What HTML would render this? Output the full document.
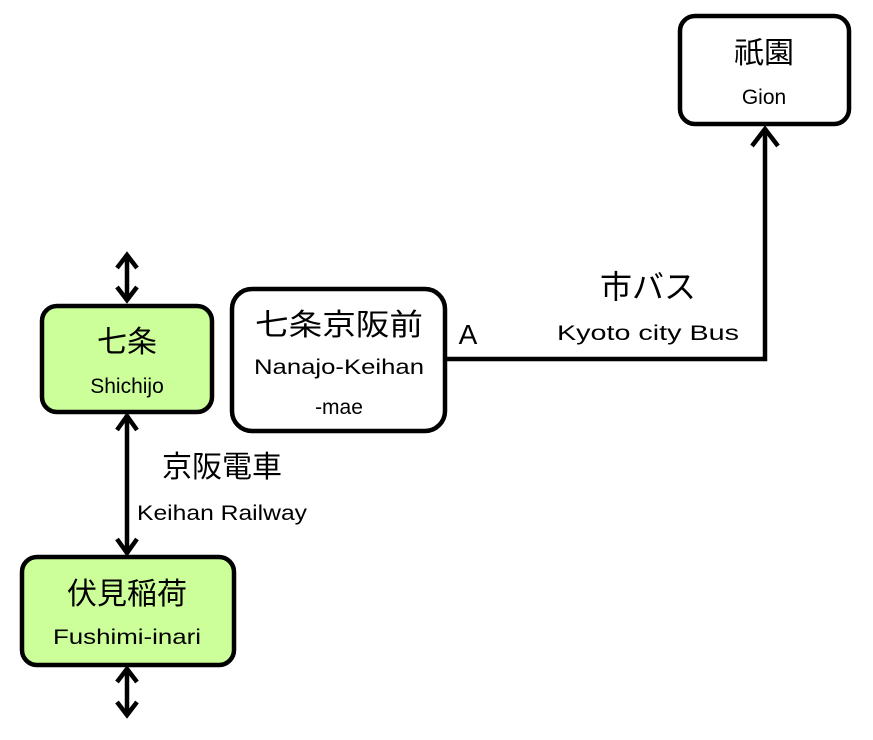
<!DOCTYPE html>
<html><head><meta charset="utf-8"><style>
html,body{margin:0;padding:0;background:#fff;}
svg{display:block;}
text{font-family:"Liberation Sans","Noto Sans CJK JP",sans-serif;fill:#000;}
.j{font-size:30px;}
.e{font-size:21px;}
</style></head><body>
<svg width="873" height="740" viewBox="0 0 873 740" xmlns="http://www.w3.org/2000/svg">
<g fill="none" stroke="#000" stroke-width="4.5" stroke-linejoin="miter" stroke-linecap="butt">
<!-- boxes -->
<rect x="680" y="16" width="169" height="108" rx="15" fill="#fff"/>
<rect x="42" y="306" width="170" height="106" rx="15" fill="#ccff99"/>
<rect x="232" y="289" width="213" height="142" rx="20" fill="#fff"/>
<rect x="22" y="557" width="212" height="108" rx="15" fill="#ccff99"/>
<!-- bus line -->
<polyline points="445,359 765,359 765,128"/>
<polyline points="752,146 765,129 778,146"/>
<!-- top double arrow -->
<line x1="127" y1="254" x2="127" y2="301"/>
<polyline points="117,268 127,255 137,268"/>
<polyline points="117,287 127,300 137,287"/>
<!-- middle double arrow -->
<line x1="127" y1="415" x2="127" y2="554"/>
<polyline points="117,430 127,416 137,430"/>
<polyline points="117,539 127,553 137,539"/>
<!-- bottom double arrow -->
<line x1="127" y1="668" x2="127" y2="716"/>
<polyline points="117,682 127,669 137,682"/>
<polyline points="117,702 127,715 137,702"/>
</g>
<text class="j" x="764" y="63" text-anchor="middle">祇園</text>
<text class="e" x="764" y="104" text-anchor="middle">Gion</text>
<text class="j" x="127" y="352" text-anchor="middle">七条</text>
<text class="e" x="127" y="393" text-anchor="middle">Shichijo</text>
<text class="j" x="339" y="335" text-anchor="middle" textLength="168" lengthAdjust="spacingAndGlyphs">七条京阪前</text>
<text class="e" x="339" y="374" text-anchor="middle" textLength="170" lengthAdjust="spacingAndGlyphs">Nanajo-Keihan</text>
<text class="e" x="339" y="414" text-anchor="middle">-mae</text>
<text class="j" x="127" y="604" text-anchor="middle">伏見稲荷</text>
<text class="e" x="127" y="644" text-anchor="middle" textLength="148" lengthAdjust="spacingAndGlyphs">Fushimi-inari</text>
<text style="font-size:32px" x="648" y="298" text-anchor="middle">市バス</text>
<text class="e" x="648" y="340" text-anchor="middle" textLength="182" lengthAdjust="spacingAndGlyphs">Kyoto city Bus</text>
<text style="font-size:28px" x="468" y="344" text-anchor="middle">A</text>
<text style="font-size:30px" x="222" y="477" text-anchor="middle">京阪電車</text>
<text class="e" x="222" y="520" text-anchor="middle" textLength="170" lengthAdjust="spacingAndGlyphs">Keihan Railway</text>
</svg>
</body></html>
